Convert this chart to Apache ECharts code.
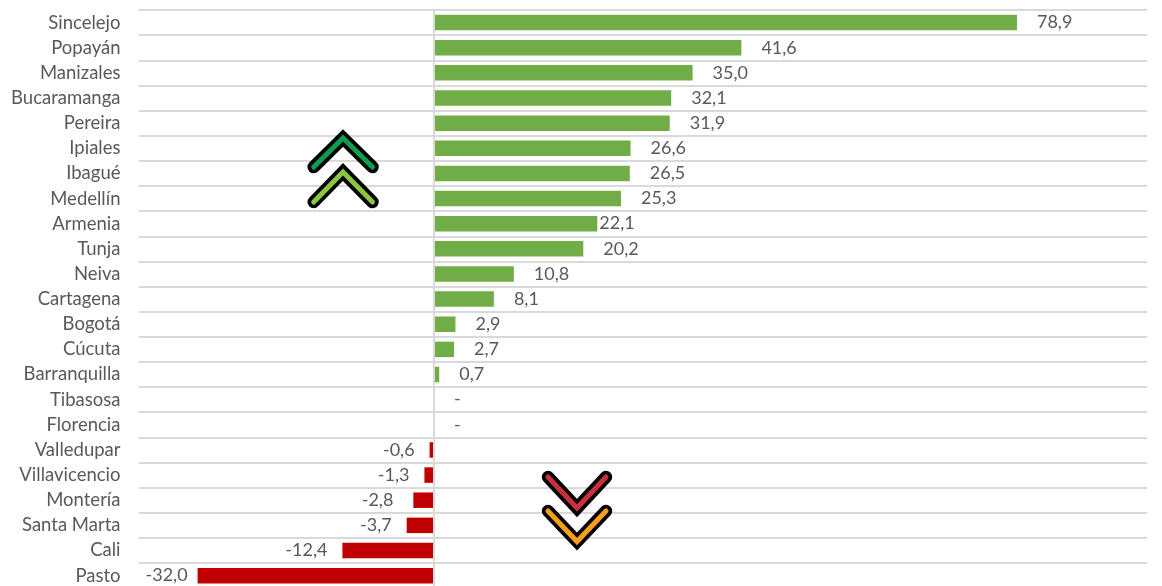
<!DOCTYPE html>
<html>
<head>
<meta charset="utf-8">
<style>
  html, body { margin: 0; padding: 0; background: #fff; }
  #chart { width: 1162px; height: 586px; }
</style>
<script src="https://cdn.jsdelivr.net/npm/echarts@6/dist/echarts.min.js"></script>
</head>
<body>
<div id="chart"></div>
<script>
const ciudades = ['Sincelejo', 'Popayán', 'Manizales', 'Bucaramanga', 'Pereira', 'Ipiales', 'Ibagué', 'Medellín', 'Armenia', 'Tunja', 'Neiva', 'Cartagena', 'Bogotá', 'Cúcuta', 'Barranquilla', 'Tibasosa', 'Florencia', 'Valledupar', 'Villavicencio', 'Montería', 'Santa Marta', 'Cali', 'Pasto']
const variacion = [78.9, 41.6, 35.0, 32.1, 31.9, 26.6, 26.5, 25.3, 22.1, 20.2, 10.8, 8.1, 2.9, 2.7, 0.7, 0, 0, -0.6, -1.3, -2.8, -3.7, -12.4, -32.0]

const GRIS = '#d9d9d9'
const TEXTO = '#595959'
const FUENTE = 'Lato, "Open Sans", sans-serif'

// separacion de la etiqueta, casi todas van a 20 o 15 px
function distancia(v, nombre) {
  if (nombre === 'Armenia') return 2
  if (nombre === 'Pasto') return 10
  if (nombre === 'Montería') return 20
  return v < 0 ? 15 : 20
}

function flecha(puntos, color) {
  return [
    { type: 'polyline', z: 10, shape: { points: puntos }, style: { fill: null, stroke: '#000', lineWidth: 12.5, lineCap: 'round', lineJoin: 'miter' } },
    { type: 'polyline', z: 11, shape: { points: puntos }, style: { fill: null, stroke: color, lineWidth: 5, lineCap: 'round', lineJoin: 'miter' } }
  ]
}

const chart = echarts.init(document.getElementById('chart'))
chart.setOption({
  animation: false,
  backgroundColor: '#fff',
  // el eje sale un poco por debajo del lienzo, igual que en la imagen
  grid: { left: 138.5, top: 10, width: 1008.5, height: 578.2, containLabel: false, outerBoundsMode: 'none' },
  xAxis: {
    type: 'value',
    min: -40,
    max: 96.5,
    show: false
  },
  yAxis: {
    type: 'category',
    inverse: true,
    z: 3,
    data: ciudades,
    axisLine: { onZero: true, lineStyle: { color: GRIS, width: 2 } },
    axisTick: { show: false },
    axisLabel: { color: TEXTO, fontFamily: FUENTE, fontSize: 18.5, margin: 18, interval: 0, verticalAlign: 'middle', padding: [0, 0, 6, 0] },
    splitLine: { show: true, interval: 0, lineStyle: { color: GRIS, width: 2 } }
  },
  series: [{
    type: 'bar',
    barWidth: 15.5,
    data: variacion.map((v, i) => ({
      value: v,
      itemStyle: { color: v < 0 ? '#c00000' : '#70ad47' },
      label: {
        position: v < 0 ? 'left' : 'right',
        distance: distancia(v, ciudades[i])
      }
    })),
    label: {
      show: true,
      color: TEXTO,
      fontFamily: FUENTE,
      fontSize: 18,
      formatter: p => p.value === 0 ? '-' : p.value.toFixed(1).replace('.', ',')
    }
  }],
  graphic: [
    ...flecha([[313.7, 167], [343, 138], [372.5, 167]], '#0f9d4f'),
    ...flecha([[313.7, 202], [343, 172], [372.5, 202]], '#8cc63f'),
    ...flecha([[548, 477], [577, 508], [606, 477]], '#c8303a'),
    ...flecha([[548, 511], [577, 541.5], [606, 511]], '#f99d1c')
  ]
})
</script>
</body>
</html>
